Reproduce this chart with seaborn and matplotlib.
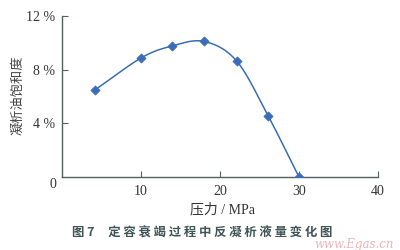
import numpy as np
import matplotlib
matplotlib.use("Agg")
import matplotlib.pyplot as plt
import seaborn as sns
import pandas as pd

pressure = [4.2, 10.0, 13.9, 18.0, 22.1, 26.1, 30.0]
saturation = [6.5, 8.87, 9.76, 10.1, 8.65, 4.55, 0.0]
x_ticks = [10, 20, 30, 40]
y_ticks = [4, 8, 12]
y_tick_labels = ["4 %", "8 %", "12 %"]

sns.set_theme(style="white")
plt.rcParams['font.family'] = ['Liberation Serif', 'Noto Sans CJK SC', 'DejaVu Sans']

df = pd.DataFrame({"p": pressure, "s": saturation})

# smooth curve for drawing (Catmull-Rom through the data points)
def catmull(xs, ys, n=30):
    P = np.column_stack([xs, ys])
    P = np.vstack([2 * P[0] - P[1], P, 2 * P[-1] - P[-2]])
    out = []
    for i in range(1, len(P) - 2):
        p0, p1, p2, p3 = P[i - 1], P[i], P[i + 1], P[i + 2]
        t = np.linspace(0, 1, n)[:, None]
        seg = 0.5 * ((2 * p1) + (-p0 + p2) * t + (2 * p0 - 5 * p1 + 4 * p2 - p3) * t ** 2
                     + (-p0 + 3 * p1 - 3 * p2 + p3) * t ** 3)
        out.append(seg)
    out = np.vstack(out)
    return out[:, 0], out[:, 1]

fig = plt.figure(figsize=(4, 2.5), dpi=100)
ax = fig.add_axes([0.155, 0.292, 0.79, 0.644])

line_color = "#3a6db5"
sx, sy = catmull(pressure, saturation)
ax.plot(sx, sy, color=line_color, lw=1.1, zorder=2)
sns.scatterplot(data=df, x="p", y="s", marker="D", s=22, color=line_color,
                edgecolor=line_color, linewidth=0.5, ax=ax, zorder=3, legend=False)

ax.set_xlim(0, 40)
ax.set_ylim(0, 12)
ax.set_xticks(x_ticks)
ax.set_xticklabels([str(v) for v in x_ticks])
ax.set_yticks(y_ticks)
ax.set_yticklabels(y_tick_labels)
axis_color = "#556060"
for side in ["top", "right"]:
    ax.spines[side].set_visible(False)
for side in ["left", "bottom"]:
    ax.spines[side].set_color(axis_color)
    ax.spines[side].set_linewidth(1.0)
ax.tick_params(axis="both", direction="in", length=4, width=0.8, color=axis_color,
               labelsize=10, labelcolor="#333333", left=True, bottom=True)
ax.tick_params(axis="x", pad=6)
ax.tick_params(axis="y", pad=5)
ax.set_xlabel("")
ax.set_ylabel("")

fig.text(0.1325, 0.26, "0", fontsize=10, color="#333333", ha="center", va="center")
fig.text(0.045, 0.62, "凝析油饱和度", rotation=90, fontsize=9.5, color="#444444",
         ha="center", va="center", family=['Noto Sans CJK SC', 'DejaVu Sans'])
fig.text(0.555, 0.16, "压力 / MPa", fontsize=10, color="#333333", ha="center", va="center",
         family=['Liberation Serif', 'Noto Sans CJK SC'])
fig.text(0.18, 0.068, "图 7     定 容 衰 竭 过 程 中 反 凝 析 液 量 变 化 图", fontsize=8.9,
         fontweight="bold", color="#3f5454", ha="left", va="center",
         family=['Noto Sans CJK SC', 'DejaVu Sans'])
fig.text(0.985, 0.022, "www.Egas.cn", fontsize=8.5, style="italic", color="#e8a0a8",
         ha="right", va="center", alpha=0.8, family=['DejaVu Serif'])

fig.savefig("out.png", dpi=100)
